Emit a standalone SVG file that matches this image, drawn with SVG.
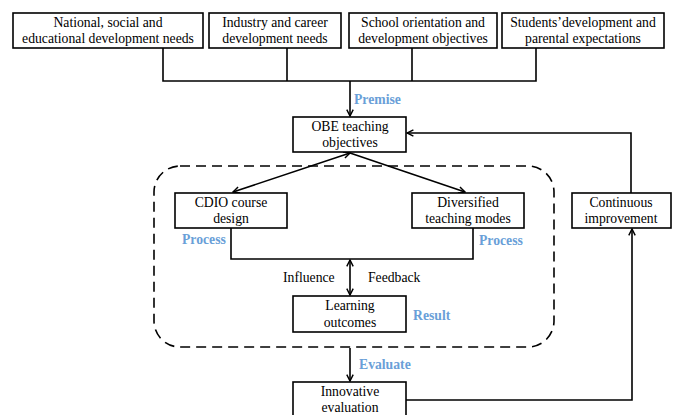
<svg xmlns="http://www.w3.org/2000/svg" width="673" height="415" viewBox="0 0 673 415">
<defs>
<style>
.box{fill:#fff;stroke:#000;stroke-width:1.6}
text{font-family:"Liberation Serif","Times New Roman","DejaVu Serif",serif;font-size:13.7px}
.t{fill:#000;text-anchor:middle}
.tl{fill:#000}
.lb{font-weight:bold;fill:#6a9fd8}
.ln{fill:none;stroke:#000;stroke-width:1.6}
</style>
<marker id="ah" viewBox="0 0 10 10" refX="9" refY="5" markerWidth="8" markerHeight="8" markerUnits="userSpaceOnUse" orient="auto-start-reverse">
<path d="M1,1 L9,5 L1,9" fill="none" stroke="#000" stroke-width="1.8"/>
</marker>
</defs>
<rect width="673" height="415" fill="#fff"/>
<g id="connectors">
<path class="ln" d="M163,48 V81 H536 V48 M287,48 V81 M412,48 V81"/>
<path class="ln" d="M350,81 V116" marker-end="url(#ah)"/>
<path class="ln" d="M631,193 V133 H407" marker-end="url(#ah)"/>
<path class="ln" d="M233,192 L350,153" marker-start="url(#ah)" marker-end="url(#ah)"/>
<path class="ln" d="M465,192 L350,153" marker-start="url(#ah)"/>
<path class="ln" d="M231,228 V259 H473 V228"/>
<path class="ln" d="M350,260 V295" marker-start="url(#ah)" marker-end="url(#ah)"/>
<path class="ln" d="M350,348 V381" marker-end="url(#ah)"/>
<path class="ln" d="M406,400 H632 V229" marker-end="url(#ah)"/>
</g>
<g id="dashed-frame">
<rect x="154" y="166" width="400" height="181" rx="26" ry="26" fill="none" stroke="#000" stroke-width="1.6" stroke-dasharray="10,6"/>
</g>
<g id="n1"><rect class="box" x="13" y="13" width="190" height="35"/><text class="t" x="108" y="27">National, social and</text><text class="t" x="108" y="43">educational development needs</text></g>
<g id="n2"><rect class="box" x="209" y="13" width="132" height="35"/><text class="t" x="275" y="27">Industry and career</text><text class="t" x="275" y="43">development needs</text></g>
<g id="n3"><rect class="box" x="349" y="13" width="148" height="35"/><text class="t" x="423" y="27">School orientation and</text><text class="t" x="423" y="43">development objectives</text></g>
<g id="n4"><rect class="box" x="502" y="13" width="162" height="35"/><text class="t" x="583" y="27">Students’development and</text><text class="t" x="583" y="43">parental expectations</text></g>
<g id="obe"><rect class="box" x="293" y="117" width="113" height="35"/><text class="t" x="350" y="131">OBE teaching</text><text class="t" x="350" y="147">objectives</text></g>
<g id="cdio"><rect class="box" x="175" y="193" width="112" height="35"/><text class="t" x="231" y="207">CDIO course</text><text class="t" x="231" y="223">design</text></g>
<g id="div"><rect class="box" x="412" y="193" width="112" height="35"/><text class="t" x="468" y="207">Diversified</text><text class="t" x="468" y="223">teaching modes</text></g>
<g id="cont"><rect class="box" x="572" y="193" width="99" height="35"/><text class="t" x="621" y="207">Continuous</text><text class="t" x="621" y="223">improvement</text></g>
<g id="learn"><rect class="box" x="293" y="296" width="113" height="36"/><text class="t" x="350" y="310">Learning</text><text class="t" x="350" y="327">outcomes</text></g>
<g id="innov"><rect class="box" x="293" y="382" width="113" height="40"/><text class="t" x="350" y="396">Innovative</text><text class="t" x="350" y="412">evaluation</text></g>
<g id="labels">
<text class="lb" x="354" y="104">Premise</text>
<text class="lb" x="182" y="244">Process</text>
<text class="lb" x="479" y="245">Process</text>
<text class="tl" x="283" y="282">Influence</text>
<text class="tl" x="368" y="282">Feedback</text>
<text class="lb" x="413" y="320">Result</text>
<text class="lb" x="359" y="369">Evaluate</text>
</g>
</svg>
